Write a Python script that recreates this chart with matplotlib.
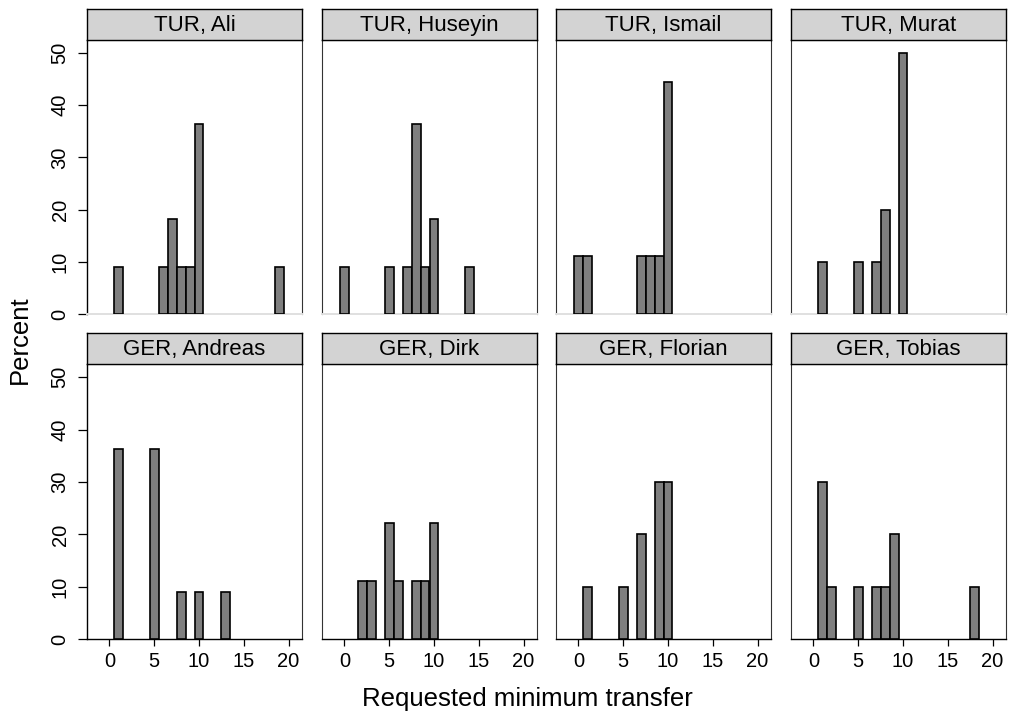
import matplotlib
matplotlib.use("Agg")
import matplotlib.pyplot as plt

plt.rcParams['font.family'] = ['Liberation Sans', 'DejaVu Sans']

panel_titles = ["TUR, Ali", "TUR, Huseyin", "TUR, Ismail", "TUR, Murat",
                "GER, Andreas", "GER, Dirk", "GER, Florian", "GER, Tobias"]

ali_x = [1, 6, 7, 8, 9, 10, 19]
ali_pct = [9.09, 9.09, 18.18, 9.09, 9.09, 36.36, 9.09]
huseyin_x = [0, 5, 7, 8, 9, 10, 14]
huseyin_pct = [9.09, 9.09, 9.09, 36.36, 9.09, 18.18, 9.09]
ismail_x = [0, 1, 7, 8, 9, 10]
ismail_pct = [11.11, 11.11, 11.11, 11.11, 11.11, 44.44]
murat_x = [1, 5, 7, 8, 10]
murat_pct = [10, 10, 10, 20, 50]
andreas_x = [1, 5, 8, 10, 13]
andreas_pct = [36.36, 36.36, 9.09, 9.09, 9.09]
dirk_x = [2, 3, 5, 6, 8, 9, 10]
dirk_pct = [11.11, 11.11, 22.22, 11.11, 11.11, 11.11, 22.22]
florian_x = [1, 5, 7, 9, 10]
florian_pct = [10, 10, 20, 30, 30]
tobias_x = [1, 2, 5, 7, 8, 9, 18]
tobias_pct = [30, 10, 10, 10, 10, 20, 10]

panel_x = [ali_x, huseyin_x, ismail_x, murat_x, andreas_x, dirk_x, florian_x, tobias_x]
panel_pct = [ali_pct, huseyin_pct, ismail_pct, murat_pct,
             andreas_pct, dirk_pct, florian_pct, tobias_pct]

x_ticks = [0, 5, 10, 15, 20]
y_ticks = [0, 10, 20, 30, 40, 50]

W, H = 1010, 719
fig = plt.figure(figsize=(W / 100, H / 100), dpi=100)

col_lefts = [87, 322, 556, 791]
ax_w = 215
row_tops = [40, 364]
row_bottoms = [314, 639.3]
strip_h = 31

grid_col = "#e0e0e0"
frame_col = "#333333"

for i, title in enumerate(panel_titles):
    r, c = divmod(i, 4)
    left = col_lefts[c]
    top = row_tops[r]
    bot = row_bottoms[r]
    ax = fig.add_axes([left / W, (H - bot) / H, ax_w / W, (bot - top) / H])
    ax.set_xlim(-2.5, 21.5)
    ax.set_ylim(0, 52.5)
    ax.set_yticks([10, 20, 30, 40, 50], minor=True)
    ax.grid(True, which='minor', axis='y', color=grid_col, lw=1.4)
    ax.set_axisbelow(True)
    ax.bar(panel_x[i], panel_pct[i], width=1.0, color="#7f7f7f",
           edgecolor="black", linewidth=1.2, zorder=3)
    ax.set_xticks(x_ticks)
    ax.set_yticks(y_ticks)
    for s in ax.spines.values():
        s.set_color(frame_col)
        s.set_linewidth(0.8)
    if r == 0:
        ax.spines['bottom'].set_color(grid_col)
        ax.spines['bottom'].set_linewidth(1.4)
    else:
        ax.spines['bottom'].set_color("black")
        ax.spines['bottom'].set_linewidth(1.0)
    if c == 0:
        ax.spines['left'].set_color("black")
        ax.spines['left'].set_linewidth(1.0)
        ax.tick_params(axis='y', length=6.5, width=0.9, pad=6, labelsize=14.5,
                       labelrotation=90)
        for lbl in ax.get_yticklabels():
            lbl.set_va('center')
    else:
        ax.tick_params(axis='y', left=False, labelleft=False)
    if r == 1:
        ax.tick_params(axis='x', length=5, width=0.9, pad=4, labelsize=14.5)
    else:
        ax.tick_params(axis='x', bottom=False, labelbottom=False)
    ax.tick_params(which='minor', left=False, bottom=False)

    # strip
    sax = fig.add_axes([left / W, (H - top) / H, ax_w / W, strip_h / H])
    sax.set_xticks([])
    sax.set_yticks([])
    sax.set_facecolor("#d3d3d3")
    for s in sax.spines.values():
        s.set_color("black")
        s.set_linewidth(1.0)
    sax.text(0.5, 0.47, title, ha='center', va='center', fontsize=16,
             transform=sax.transAxes)

fig.text(20 / W, (H - 340) / H, "Percent", rotation=90, ha='center',
         va='center', fontsize=18.5)
fig.text(527 / W, (H - 699) / H, "Requested minimum transfer", ha='center',
         va='center', fontsize=18.5)

fig.savefig("out.png", dpi=100)
